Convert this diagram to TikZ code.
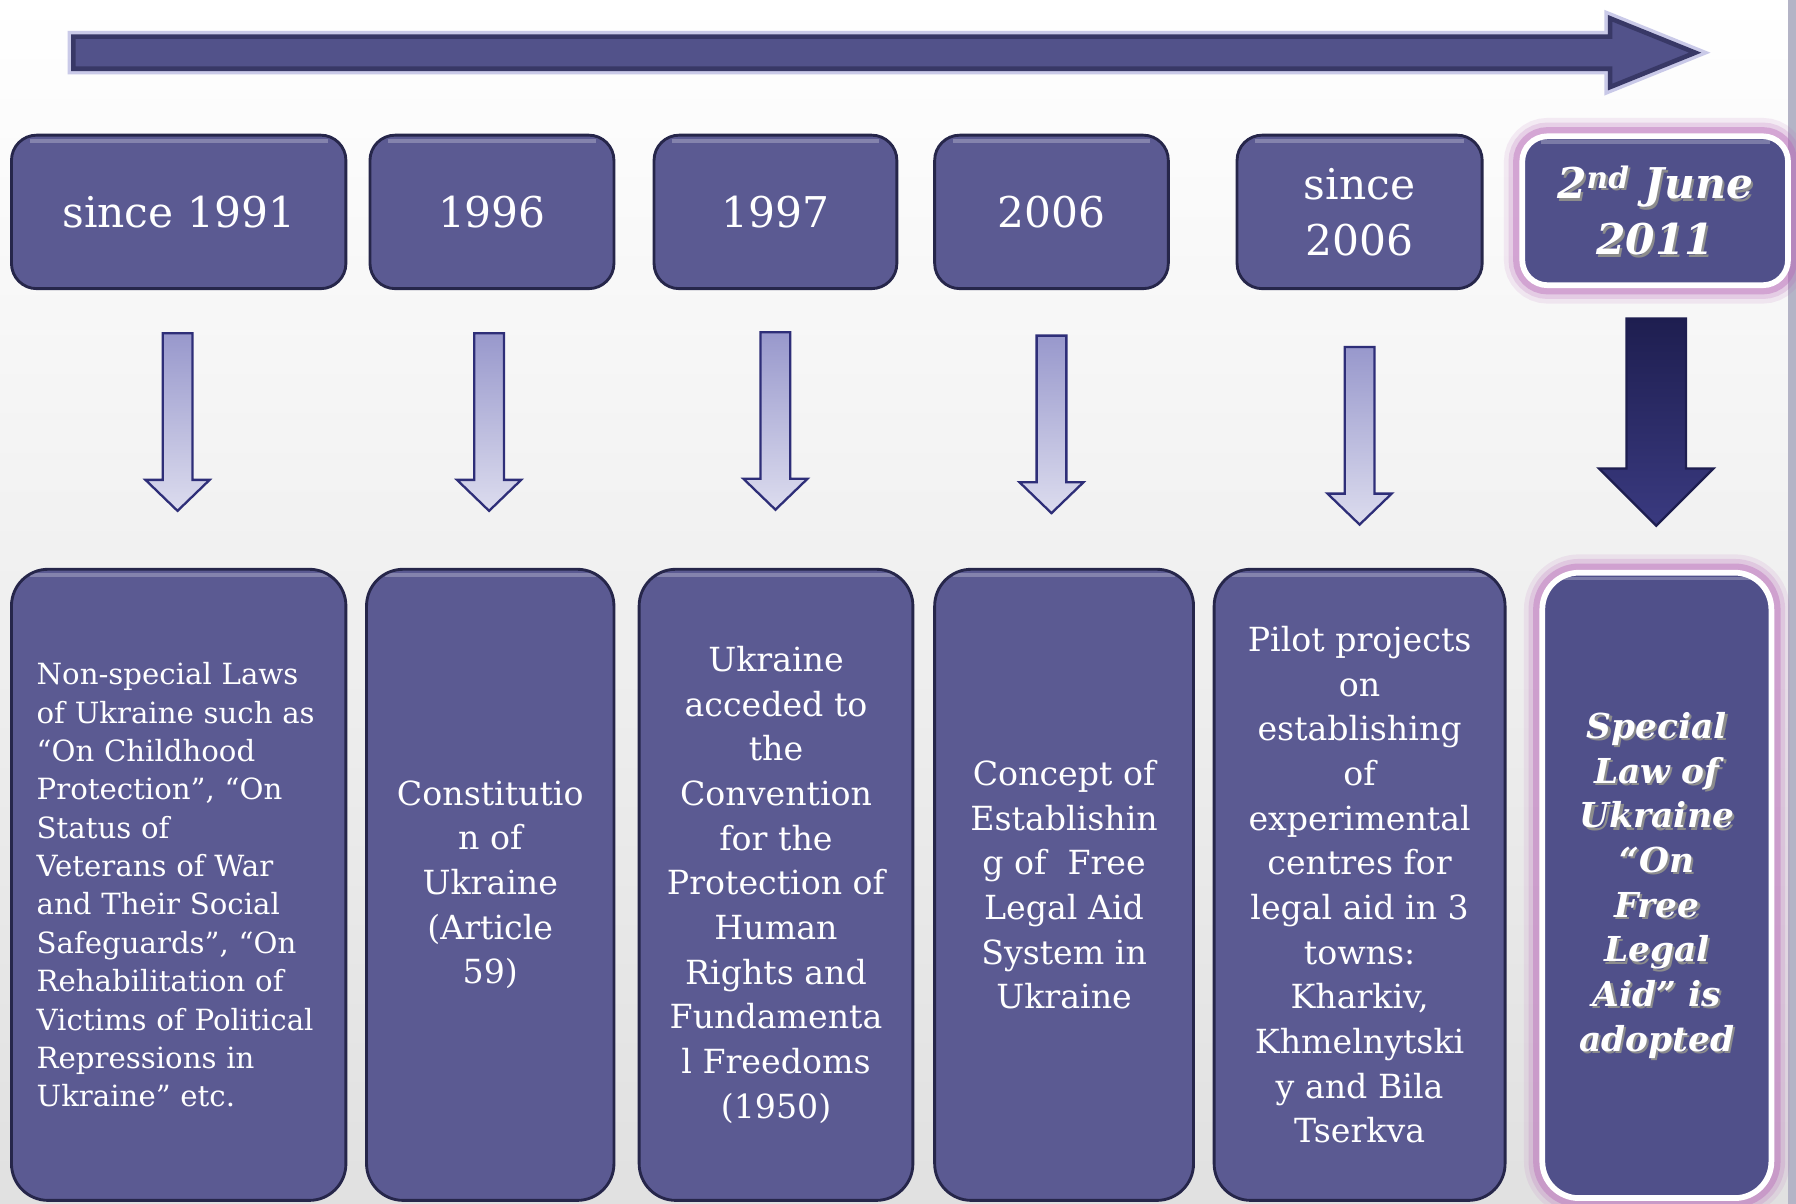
\documentclass[tikz,border=0pt]{standalone}
\usepackage{fontspec}
\newfontfamily\boxfont{DejaVu Serif}
\usetikzlibrary{positioning,shapes.arrows}

\definecolor{boxfill}{HTML}{5B5A92}
\definecolor{boxedge}{HTML}{26264A}
\definecolor{keyfill}{HTML}{50508A}
\definecolor{glow}{HTML}{B868B8}
\definecolor{linefill}{HTML}{52528A}
\definecolor{lineedge}{HTML}{383866}
\definecolor{lineglow}{HTML}{B4B4E0}
\definecolor{arrowtop}{HTML}{9898CC}
\definecolor{arrowbot}{HTML}{DCDCEE}
\definecolor{arrowedge}{HTML}{2E2E78}
\definecolor{bigtop}{HTML}{1E1E50}
\definecolor{bigbot}{HTML}{3A3A80}
\definecolor{stripgray}{HTML}{B4B4C6}

\tikzset{
  yearbox/.style={rectangle, rounded corners=22pt, fill=boxfill, draw=boxedge, line width=2.5pt,
    text=white, minimum height=134pt, inner sep=0pt, align=center,
    font=\boxfont\fontsize{37}{49}\selectfont,
    path picture={\draw[white, draw opacity=.25, line width=3pt]
      ([xshift=16pt,yshift=-5pt]path picture bounding box.north west) --
      ([xshift=-16pt,yshift=-5pt]path picture bounding box.north east);}},
  factbox/.style={yearbox, rounded corners=32pt, minimum height=551pt,
    font=\boxfont\fontsize{29}{39}\selectfont},
  keybox/.style={fill=keyfill, draw=white, line width=5pt,
    preaction={draw=glow, line width=32pt, draw opacity=.12},
    preaction={draw=glow, line width=24pt, draw opacity=.2},
    preaction={draw=glow, line width=16pt, draw opacity=.4}},
  keytext/.style={text=white, align=center, font=\boxfont\bfseries\itshape},
  keyshade/.style={keytext, text=black!45, xshift=2pt, yshift=-2pt},
  downarrow/.style={single arrow, shape border rotate=270, anchor=tail, inner sep=12pt,
    single arrow head extend=15pt, single arrow tip angle=92, minimum height=155pt,
    top color=arrowtop, bottom color=arrowbot, draw=arrowedge, line width=2pt},
}

\begin{document}
\begin{tikzpicture}[x=1pt,y=-1pt]
  \useasboundingbox (0,0) rectangle (1568,1051);
  \shade[top color=white, bottom color=black!12] (0,0) rectangle (1568,1051);
  \fill[stripgray] (1561,0) rectangle (1568,1051);

  % time line
  \node[single arrow, anchor=tail, inner sep=12pt, single arrow head extend=16pt, single arrow tip angle=44,
    minimum height=1416pt, fill=linefill, draw=lineedge, line width=4pt,
    preaction={draw=lineglow, line width=10pt, draw opacity=.7}] (timeline) at (62,46) {};

  % years
  \node[yearbox, minimum width=292pt] (t1) at (156,185) {since 1991};
  \node[yearbox, minimum width=213pt] (t2) at (429.5,185) {1996};
  \node[yearbox, minimum width=212pt] (t3) at (677,185) {1997};
  \node[yearbox, minimum width=204pt] (t4) at (918,185) {2006};
  \node[yearbox, minimum width=214pt] (t5) at (1187,185) {since\\2006};
  \node[yearbox, keybox, minimum width=232pt, minimum height=130pt] (t6) at (1445,184) {};
  \node[keyshade, font=\boxfont\bfseries\itshape\fontsize{37}{49}\selectfont] (t6shade) at (t6)
    {2\textsuperscript{nd} June\\2011};
  \node[keytext, font=\boxfont\bfseries\itshape\fontsize{37}{49}\selectfont] (t6text) at (t6)
    {2\textsuperscript{nd} June\\2011};

  % arrows down
  \foreach \x/\y [count=\i] in {155/290, 427/290, 677/289, 918/292, 1187/302}
    \node[downarrow] (arr\i) at (\x,\y) {};
  \node[downarrow, inner sep=25pt, single arrow head extend=24pt, single arrow tip angle=90,
    minimum height=181pt, top color=bigtop, bottom color=bigbot, draw=bigtop] (arr6) at (1446,277) {};

  % facts
  \node[factbox, minimum width=292pt, text width=248pt, align=left,
    font=\boxfont\fontsize{25.5}{33.5}\selectfont] (b1) at (156,772.5)
    {Non-special Laws\\of Ukraine such as\\“On Childhood\\Protection”, “On\\Status of\\Veterans of War\\and Their Social\\Safeguards”, “On\\Rehabilitation of\\Victims of Political\\Repressions in\\Ukraine” etc.};
  \node[factbox, minimum width=216pt] (b2) at (428,772.5)
    {Constitutio\\n of\\Ukraine\\(Article\\59)};
  \node[factbox, minimum width=239pt] (b3) at (677.5,772.5)
    {Ukraine\\acceded to\\the\\Convention\\for the\\Protection of\\Human\\Rights and\\Fundamenta\\l Freedoms\\(1950)};
  \node[factbox, minimum width=226pt] (b4) at (929,772.5)
    {Concept of\\Establishin\\g of~ Free\\Legal Aid\\System in\\Ukraine};
  \node[factbox, minimum width=254pt] (b5) at (1187,772.5)
    {Pilot projects\\on\\establishing\\of\\experimental\\centres for\\legal aid in 3\\towns:\\Kharkiv,\\Khmelnytski\\y and Bila\\Tserkva};
  \node[factbox, keybox, minimum width=200pt, minimum height=546pt] (b6) at (1446.5,773) {};
  \node[keyshade, font=\boxfont\bfseries\itshape\fontsize{30}{39}\selectfont] (b6shade) at (b6)
    {Special\\Law of\\Ukraine\\“On\\Free\\Legal\\Aid” is\\adopted};
  \node[keytext, font=\boxfont\bfseries\itshape\fontsize{30}{39}\selectfont] (b6text) at (b6)
    {Special\\Law of\\Ukraine\\“On\\Free\\Legal\\Aid” is\\adopted};
\end{tikzpicture}
\end{document}
